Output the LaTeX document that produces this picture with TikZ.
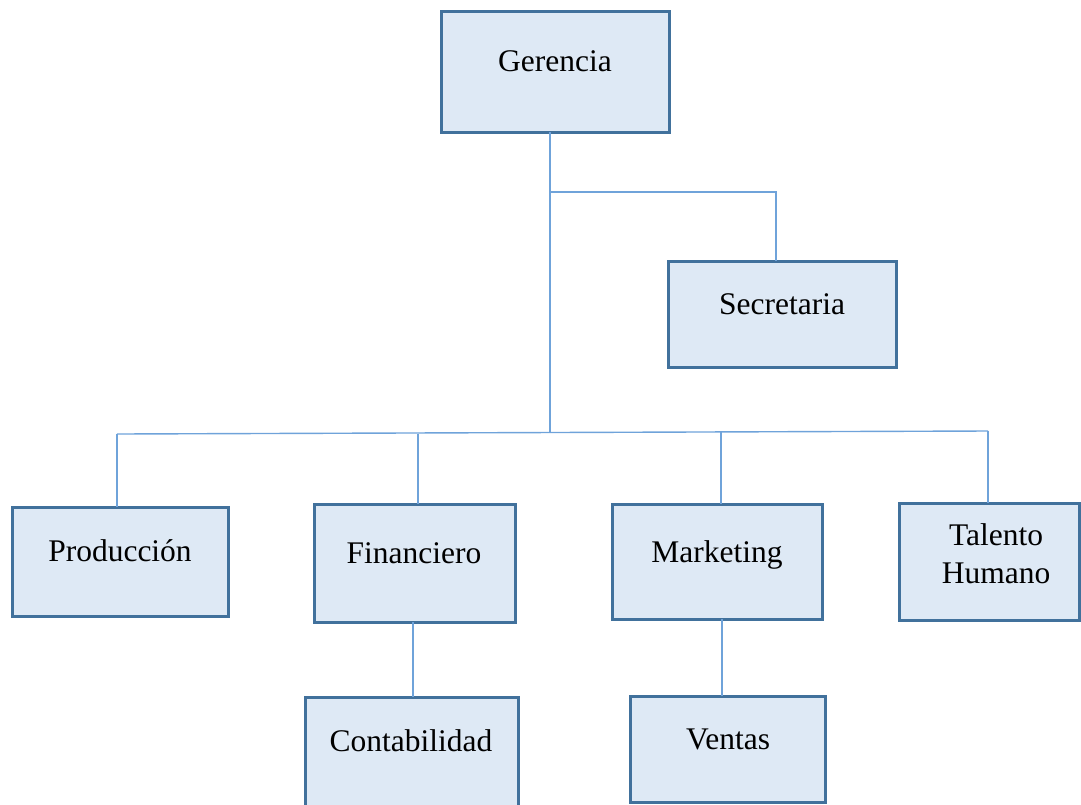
\documentclass[tikz,border=0pt]{standalone}
\usepackage{fontspec}
\setmainfont{Liberation Serif}
\begin{document}
\begin{tikzpicture}[x=1pt,y=-1pt,
  box/.style={draw=boxline,fill=boxfill,line width=3pt,inner sep=0pt,outer sep=0pt},
  txt/.style={font=\fontsize{31.5}{38}\selectfont,align=center,inner sep=0pt},
  conn/.style={draw=connline,line width=1.4pt}]
\definecolor{boxline}{HTML}{41719C}
\definecolor{boxfill}{HTML}{DEE9F5}
\definecolor{connline}{HTML}{6FA3DA}
\useasboundingbox (0,0) rectangle (1081,804);
\clip (0,0) rectangle (1081,804);
% boxes
\node[box,minimum width=228,minimum height=121] (g) at (555,71.5) {};
\node[box,minimum width=228,minimum height=106] (s) at (782,314) {};
\node[box,minimum width=216,minimum height=109] (p) at (120,561.5) {};
\node[box,minimum width=201,minimum height=118] (f) at (414.5,563) {};
\node[box,minimum width=210,minimum height=115] (m) at (717,561.5) {};
\node[box,minimum width=180,minimum height=117] (t) at (989,561.5) {};
\node[box,minimum width=213,minimum height=120] (c) at (411.5,757) {};
\node[box,minimum width=195,minimum height=106] (v) at (727.5,749) {};
% texts
\node[txt] (gt) at (555,61) {Gerencia};
\node[txt] (st) at (782,304) {Secretaria};
\node[txt] (pt) at (120,551) {Producción};
\node[txt] (ft) at (414,553) {Financiero};
\node[txt] (mt) at (717,555) {Marketing};
\node[txt] (tt) at (996,554) {Talento\\Humano};
\node[txt] (ct) at (411,741) {Contabilidad};
\node[txt] (vt) at (728,739) {Ventas};
% connectors
\coordinate (j1) at (550,192);
\coordinate (j2) at (550,432.5);
\coordinate (sj) at (776,192);
\coordinate (pj) at (117,434);
\coordinate (fj) at (418,433.5);
\coordinate (mj) at (721,432);
\coordinate (tj) at (988,431);
\coordinate (fc) at (413,660);
\coordinate (mv) at (722,660);
\draw[conn] (g.south -| j1) -- (j2);
\draw[conn] (j1) -- (sj) -- (sj |- s.north);
\draw[conn] (pj) -- (tj);
\draw[conn] (pj) -- (pj |- p.north);
\draw[conn] (fj) -- (fj |- f.north);
\draw[conn] (mj) -- (mj |- m.north);
\draw[conn] (tj) -- (tj |- t.north);
\draw[conn] (fc |- f.south) -- (fc |- c.north);
\draw[conn] (mv |- m.south) -- (mv |- v.north);
\end{tikzpicture}
\end{document}
